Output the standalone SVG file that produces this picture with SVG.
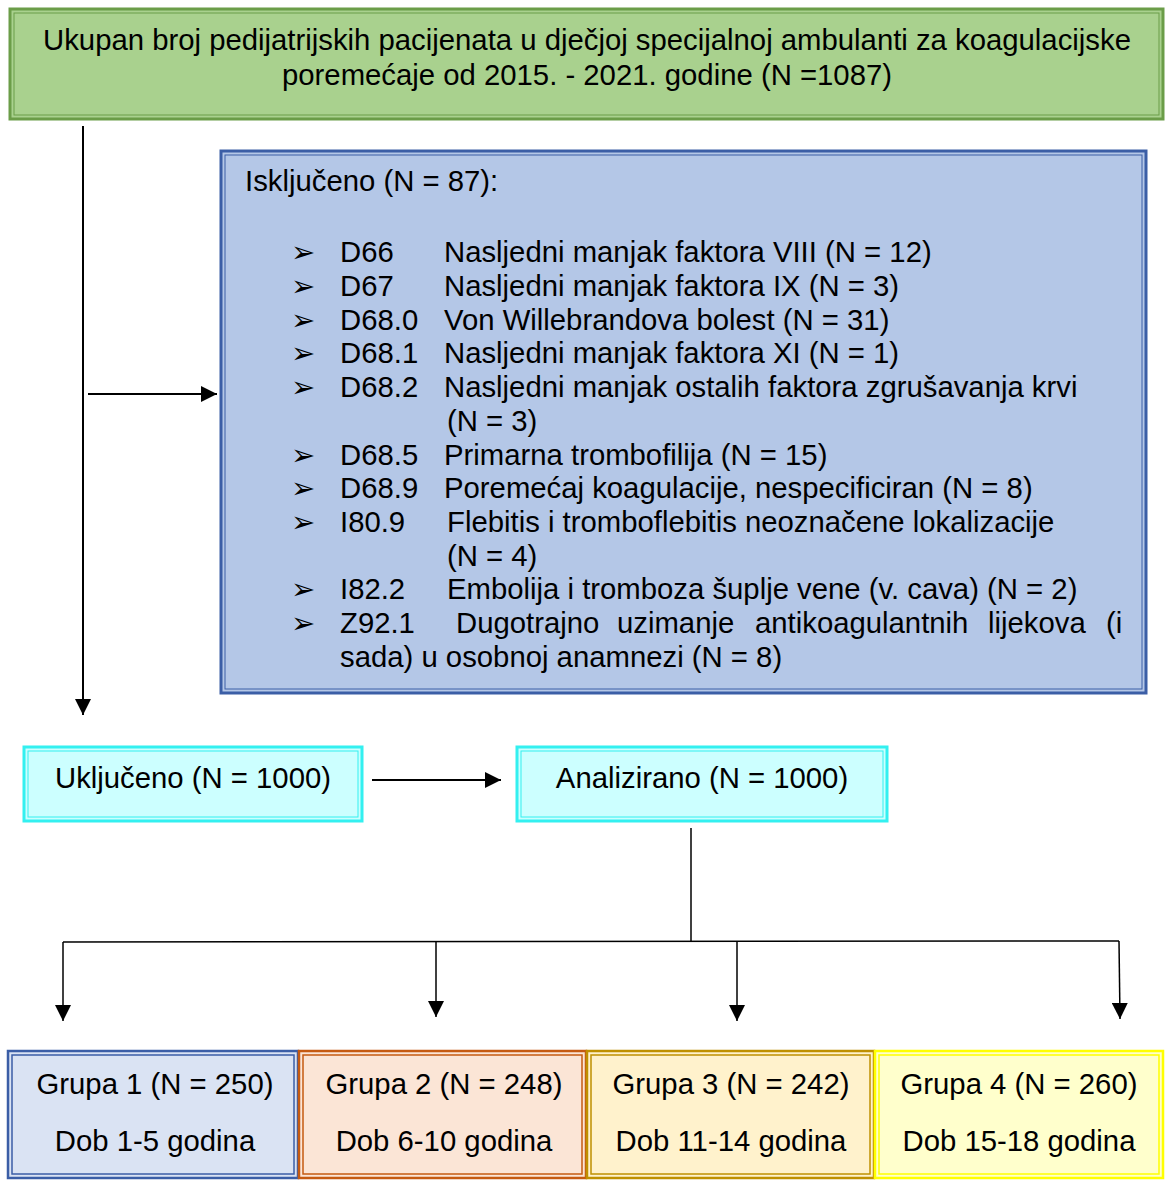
<svg xmlns="http://www.w3.org/2000/svg" width="1165" height="1180" viewBox="0 0 1165 1180">
<defs>
<style>
text{font-family:"Liberation Sans",Arial,sans-serif;font-size:29.3px;fill:#000}
.c{text-anchor:middle}
.b{font-family:"DejaVu Sans",sans-serif;font-size:29px}
.ln{stroke:#000;stroke-width:2;fill:none}
.th{stroke-width:1.5}
</style>
<marker id="ah" viewBox="0 0 10 10" refX="10" refY="5" markerWidth="16" markerHeight="16" markerUnits="userSpaceOnUse" orient="auto">
<path d="M0,0 L10,5 L0,10 z" fill="#000"/>
</marker>
</defs>
<rect width="1165" height="1180" fill="#fff"/>

<g id="connectors">
<line class="ln" x1="83" y1="126" x2="83" y2="715" marker-end="url(#ah)"/>
<line class="ln" x1="88" y1="394" x2="217" y2="394" marker-end="url(#ah)"/>
<line class="ln" x1="372" y1="780" x2="501" y2="780" marker-end="url(#ah)"/>
<line class="ln th" x1="691" y1="828" x2="691" y2="942"/>
<polyline class="ln th" points="63,942 1119,941"/>
<line class="ln th" x1="63" y1="942" x2="63" y2="1021" marker-end="url(#ah)"/>
<line class="ln th" x1="436" y1="942" x2="436" y2="1017" marker-end="url(#ah)"/>
<line class="ln th" x1="737" y1="942" x2="737" y2="1021" marker-end="url(#ah)"/>
<line class="ln th" x1="1119" y1="941" x2="1120" y2="1019" marker-end="url(#ah)"/>
</g>

<g id="total">
<rect x="10" y="9" width="1153" height="110" fill="#a9d18e" stroke="#6b9d48" stroke-width="3"/>
<rect x="14" y="13" width="1145" height="102" fill="none" stroke="#6b9d48" stroke-width="1"/>
<text class="c" x="587" y="50">Ukupan broj pedijatrijskih pacijenata u dječjoj specijalnoj ambulanti za koagulacijske</text>
<text class="c" x="587" y="85">poremećaje od 2015. - 2021. godine (N =1087)</text>
</g>

<g id="excluded">
<rect x="221" y="151" width="925" height="542" fill="#b4c7e7" stroke="#3b5ea6" stroke-width="3"/>
<rect x="225" y="155" width="917" height="534" fill="none" stroke="#3b5ea6" stroke-width="1"/>
<text x="245" y="191">Isključeno (N = 87):</text>
<g>
<text class="b" x="291" y="262">➢</text><text x="340" y="262">D66</text><text x="444" y="262">Nasljedni manjak faktora VIII (N = 12)</text>
<text class="b" x="291" y="296">➢</text><text x="340" y="296">D67</text><text x="444" y="296">Nasljedni manjak faktora IX (N = 3)</text>
<text class="b" x="291" y="330">➢</text><text x="340" y="330">D68.0</text><text x="444" y="330">Von Willebrandova bolest (N = 31)</text>
<text class="b" x="291" y="363">➢</text><text x="340" y="363">D68.1</text><text x="444" y="363">Nasljedni manjak faktora XI (N = 1)</text>
<text class="b" x="291" y="397">➢</text><text x="340" y="397">D68.2</text><text x="444" y="397">Nasljedni manjak ostalih faktora zgrušavanja krvi</text>
<text x="447" y="431">(N = 3)</text>
<text class="b" x="291" y="465">➢</text><text x="340" y="465">D68.5</text><text x="444" y="465">Primarna trombofilija (N = 15)</text>
<text class="b" x="291" y="498">➢</text><text x="340" y="498">D68.9</text><text x="444" y="498">Poremećaj koagulacije, nespecificiran (N = 8)</text>
<text class="b" x="291" y="532">➢</text><text x="340" y="532">I80.9</text><text x="447" y="532">Flebitis i tromboflebitis neoznačene lokalizacije</text>
<text x="447" y="566">(N = 4)</text>
<text class="b" x="291" y="599">➢</text><text x="340" y="599">I82.2</text><text x="447" y="599">Embolija i tromboza šuplje vene (v. cava) (N = 2)</text>
<text class="b" x="291" y="633">➢</text><text x="340" y="633">Z92.1</text>
<text x="456" y="633">Dugotrajno</text><text x="617" y="633">uzimanje</text><text x="755" y="633">antikoagulantnih</text><text x="988" y="633">lijekova</text><text x="1106" y="633">(i</text>
<text x="340" y="667">sada) u osobnoj anamnezi (N = 8)</text>
</g>
</g>

<g id="included">
<rect x="24" y="747" width="338" height="74" fill="#ccffff" stroke="#33f0f0" stroke-width="3"/>
<rect x="28" y="751" width="330" height="66" fill="none" stroke="#33f0f0" stroke-width="1"/>
<text class="c" x="193" y="788">Uključeno (N = 1000)</text>
</g>

<g id="analyzed">
<rect x="517" y="747" width="370" height="74" fill="#ccffff" stroke="#33f0f0" stroke-width="3"/>
<rect x="521" y="751" width="362" height="66" fill="none" stroke="#33f0f0" stroke-width="1"/>
<text class="c" x="702" y="788">Analizirano (N = 1000)</text>
</g>

<g id="group1">
<rect x="8" y="1051" width="290" height="127" fill="#dae3f3" stroke="#3b5ea6" stroke-width="2.5"/>
<rect x="12" y="1055" width="282" height="119" fill="none" stroke="#3b5ea6" stroke-width="1.5"/>
<text class="c" x="155" y="1094">Grupa 1 (N = 250)</text>
<text class="c" x="155" y="1151">Dob 1-5 godina</text>
</g>
<g id="group2">
<rect x="299" y="1051" width="287" height="127" fill="#fbe5d6" stroke="#c55a11" stroke-width="2.5"/>
<rect x="303" y="1055" width="279" height="119" fill="none" stroke="#c55a11" stroke-width="1.5"/>
<text class="c" x="444" y="1094">Grupa 2 (N = 248)</text>
<text class="c" x="444" y="1151">Dob 6-10 godina</text>
</g>
<g id="group3">
<rect x="587" y="1051" width="287" height="127" fill="#fff2cc" stroke="#bf9000" stroke-width="2.5"/>
<rect x="591" y="1055" width="279" height="119" fill="none" stroke="#bf9000" stroke-width="1.5"/>
<text class="c" x="731" y="1094">Grupa 3 (N = 242)</text>
<text class="c" x="731" y="1151">Dob 11-14 godina</text>
</g>
<g id="group4">
<rect x="875" y="1051" width="288" height="127" fill="#ffffcc" stroke="#ffff00" stroke-width="2.5"/>
<rect x="879" y="1055" width="280" height="119" fill="none" stroke="#ffff00" stroke-width="1.5"/>
<text class="c" x="1019" y="1094">Grupa 4 (N = 260)</text>
<text class="c" x="1019" y="1151">Dob 15-18 godina</text>
</g>
</svg>
